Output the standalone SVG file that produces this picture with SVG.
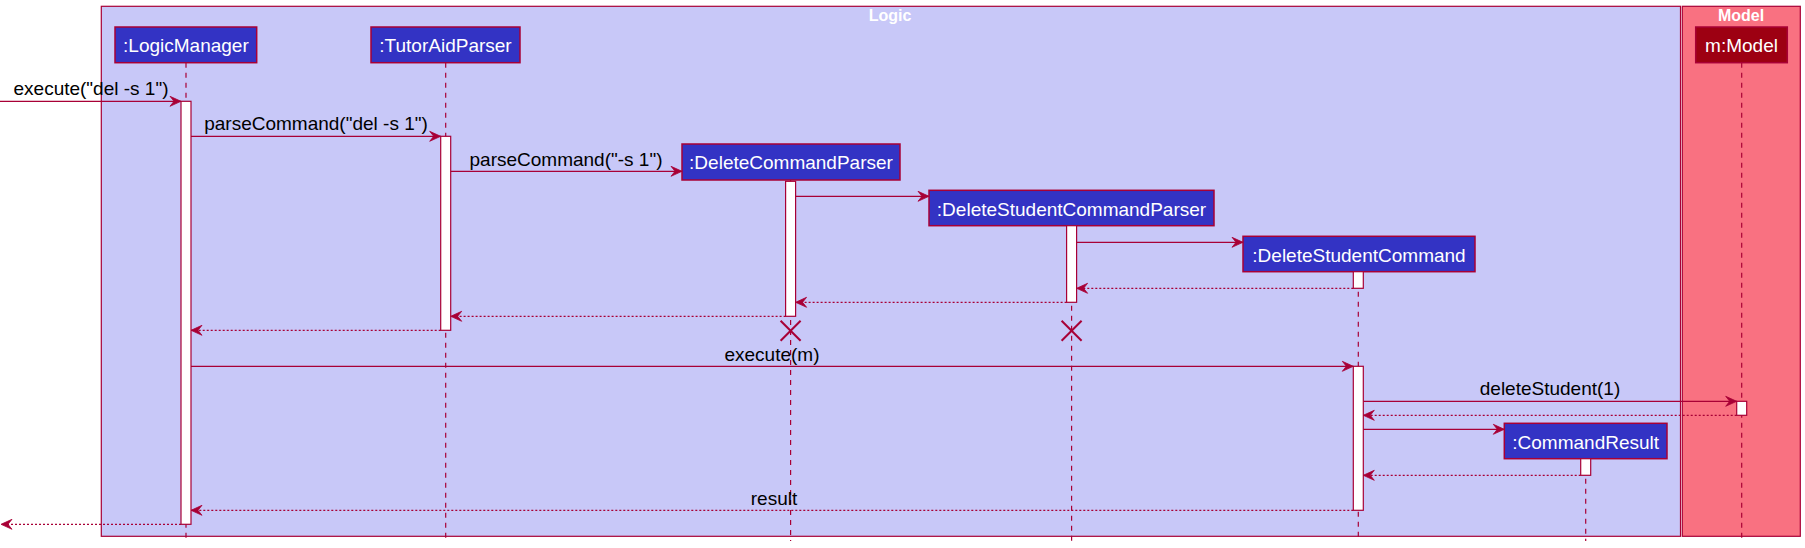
<svg xmlns="http://www.w3.org/2000/svg" width="1805" height="548" viewBox="0 0 1805 548">
<style>
.frame{stroke:#A80036;stroke-width:1.2}
.part{fill:#3333C4;stroke:#A80036;stroke-width:1.5}
.pname{font-family:"Liberation Sans",Arial,sans-serif;font-size:19px;fill:#FFFFFF;text-anchor:middle}
.title{font-family:"Liberation Sans",Arial,sans-serif;font-size:16px;font-weight:bold;fill:#FFFFFF;text-anchor:middle}
.life{stroke:#A80036;stroke-width:1.2;stroke-dasharray:5,5;fill:none}
.act{fill:#FFFFFF;stroke:#A80036;stroke-width:1.2}
.msg{stroke:#A80036;stroke-width:1.2;fill:none;marker-end:url(#ah)}
.ret{stroke:#A80036;stroke-width:1.2;stroke-dasharray:2,2;fill:none;marker-end:url(#ah)}
.lbl{font-family:"Liberation Sans",Arial,sans-serif;font-size:19px;fill:#000000;text-anchor:middle}
.x{stroke:#A80036;stroke-width:2;fill:none}
</style>
<defs>
<marker id="ah" markerUnits="userSpaceOnUse" markerWidth="14" markerHeight="12" viewBox="-12 -6 14 12" refX="0" refY="0" orient="auto">
<path d="M0,0 L-11,-5 L-7,0 L-11,5 Z" fill="#A80036" stroke="#A80036" stroke-width="0.8"/>
</marker>
</defs>

<g id="frame-logic">
<rect class="frame" x="101.3" y="6.3" width="1579.2" height="530" fill="#C8C8F8"/>
<text class="title" x="890" y="20.7">Logic</text>
</g>
<g id="frame-model">
<rect class="frame" x="1682.3" y="6.3" width="118" height="530" fill="#F97181"/>
<text class="title" x="1741" y="20.7">Model</text>
</g>

<g id="lifelines">
<line class="life" x1="186" y1="62.7" x2="186" y2="541"/>
<line class="life" x1="445.7" y1="62.7" x2="445.7" y2="541"/>
<line class="life" x1="790.6" y1="180" x2="790.6" y2="541"/>
<line class="life" x1="1071.6" y1="225.7" x2="1071.6" y2="541"/>
<line class="life" x1="1358.3" y1="271.7" x2="1358.3" y2="541"/>
<line class="life" x1="1585.7" y1="458.7" x2="1585.7" y2="541"/>
<line class="life" x1="1741.7" y1="62.7" x2="1741.7" y2="541"/>
</g>

<g id="LogicManager">
<rect class="part" x="115" y="27" width="141.7" height="35.7"/>
<text class="pname" x="185.9" y="52.4">:LogicManager</text>
<rect class="act" x="181" y="101.3" width="10" height="423"/>
</g>

<g id="TutorAidParser">
<rect class="part" x="371" y="27" width="149" height="35.7"/>
<text class="pname" x="445.5" y="52.4">:TutorAidParser</text>
<rect class="act" x="440.7" y="136.3" width="10" height="194"/>
</g>

<g id="DeleteCommandParser">
<rect class="part" x="682" y="144" width="218" height="36"/>
<text class="pname" x="791" y="169.3">:DeleteCommandParser</text>
<rect class="act" x="785.6" y="181.3" width="10" height="135"/>
<line class="x" x1="780.6" y1="320.7" x2="800.6" y2="340.7"/>
<line class="x" x1="800.6" y1="320.7" x2="780.6" y2="340.7"/>
</g>

<g id="DeleteStudentCommandParser">
<rect class="part" x="929" y="190.3" width="285" height="35.4"/>
<text class="pname" x="1071.5" y="215.5">:DeleteStudentCommandParser</text>
<rect class="act" x="1066.6" y="225.7" width="10" height="76.6"/>
<line class="x" x1="1061.6" y1="320.7" x2="1081.6" y2="340.7"/>
<line class="x" x1="1081.6" y1="320.7" x2="1061.6" y2="340.7"/>
</g>

<g id="DeleteStudentCommand">
<rect class="part" x="1243" y="236.3" width="232" height="35.4"/>
<text class="pname" x="1359" y="261.5">:DeleteStudentCommand</text>
<rect class="act" x="1353.3" y="271.7" width="10" height="16.6"/>
<rect class="act" x="1353.3" y="366.3" width="10" height="144"/>
</g>

<g id="CommandResult">
<rect class="part" x="1504.3" y="423.3" width="162.7" height="35.4"/>
<text class="pname" x="1585.7" y="448.5">:CommandResult</text>
<rect class="act" x="1580.7" y="458.7" width="10" height="16.6"/>
</g>

<g id="Model">
<rect class="part" x="1695.7" y="27" width="91.6" height="35.7" fill="#9D0012" style="fill:#9D0012"/>
<text class="pname" x="1741.5" y="52.4">m:Model</text>
<rect class="act" x="1736.7" y="401.3" width="10" height="14"/>
</g>

<g id="connectors">
<line class="msg" x1="0" y1="101.3" x2="181" y2="101.3"/>
<text class="lbl" x="91" y="95">execute("del -s 1")</text>
<line class="msg" x1="191" y1="136.3" x2="440.7" y2="136.3"/>
<text class="lbl" x="316" y="130.3">parseCommand("del -s 1")</text>
<line class="msg" x1="450.7" y1="171.3" x2="682" y2="171.3"/>
<text class="lbl" x="566" y="165.8">parseCommand("-s 1")</text>
<line class="msg" x1="795.6" y1="196.3" x2="929" y2="196.3"/>
<line class="msg" x1="1076.6" y1="242.3" x2="1243" y2="242.3"/>
<line class="ret" x1="1353.3" y1="288.3" x2="1076.6" y2="288.3"/>
<line class="ret" x1="1066.6" y1="302.3" x2="795.6" y2="302.3"/>
<line class="ret" x1="785.6" y1="316.3" x2="450.7" y2="316.3"/>
<line class="ret" x1="440.7" y1="330.3" x2="191" y2="330.3"/>
<line class="msg" x1="191" y1="366.3" x2="1353.3" y2="366.3"/>
<text class="lbl" x="772" y="360.5">execute(m)</text>
<line class="msg" x1="1363.3" y1="401.3" x2="1736.7" y2="401.3"/>
<text class="lbl" x="1550" y="395">deleteStudent(1)</text>
<line class="ret" x1="1736.7" y1="415.3" x2="1363.3" y2="415.3"/>
<line class="msg" x1="1363.3" y1="429.3" x2="1504.3" y2="429.3"/>
<line class="ret" x1="1580.7" y1="475.3" x2="1363.3" y2="475.3"/>
<line class="ret" x1="1353.3" y1="510.3" x2="191" y2="510.3"/>
<text class="lbl" x="774" y="504.5">result</text>
<line class="ret" x1="181" y1="524.3" x2="1" y2="524.3"/>
</g>
</svg>
